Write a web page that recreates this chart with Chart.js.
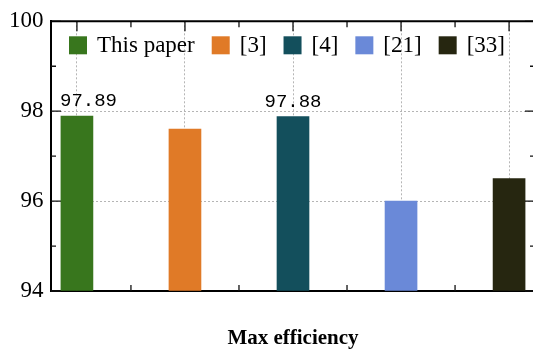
<!DOCTYPE html>
<html>
<head>
<meta charset="utf-8">
<script src="https://cdn.jsdelivr.net/npm/chart.js@4.4.0/dist/chart.umd.min.js"></script>
<style>
  html, body { margin: 0; padding: 0; background: #fff; overflow: hidden; }
  #wrap { width: 545px; height: 351px; }
</style>
</head>
<body>
<div id="wrap"><canvas id="effChart" width="545" height="351"></canvas></div>
<script>
// ================= DATA =================
const sources = ["This paper", "[3]", "[4]", "[21]", "[33]"];
const maxEfficiency = [97.89, 97.6, 97.88, 96.0, 96.5];
const valueLabels = ["97.89", "", "97.88", "", ""];
const barColors = ["#38761d", "#e07a27", "#134f5c", "#6a89d8", "#262610"];
const yTicks = [94, 96, 98, 100];
const yMinorTicks = [95, 97, 99];
const xTitle = "Max efficiency";

const serif = "Liberation Serif";
const gridColor = "#b5b5b5";

// ================= FRAME, TICKS, LEGEND, LABELS =================
const framePlugin = {
  id: "frame",
  beforeDatasetsDraw(chart) {
    const { ctx, chartArea: a, scales: { x, y } } = chart;
    ctx.save();
    ctx.strokeStyle = "#111";
    ctx.lineWidth = 1.3;
    ctx.beginPath();
    // x ticks (inward, bottom and top): bar centres and midpoints
    sources.forEach((_, i) => {
      const marks = [[i + 1, 10]];
      if (i < sources.length - 1) marks.push([i + 1.5, 6]);
      marks.forEach(([v, len]) => {
        const px = x.getPixelForValue(v);
        ctx.moveTo(px, a.bottom); ctx.lineTo(px, a.bottom - len);
        ctx.moveTo(px, a.top); ctx.lineTo(px, a.top + len);
      });
    });
    // y ticks (inward, left and right)
    yTicks.map(v => [v, 10]).concat(yMinorTicks.map(v => [v, 5])).forEach(([v, len]) => {
      const py = y.getPixelForValue(v);
      ctx.moveTo(a.left, py); ctx.lineTo(a.left + len, py);
      ctx.moveTo(a.right, py); ctx.lineTo(a.right - len, py);
    });
    ctx.stroke();
    ctx.restore();
  },
  afterDatasetsDraw(chart) {
    const { ctx, chartArea: a } = chart;
    ctx.save();
    // top and right axis lines
    ctx.strokeStyle = "#000";
    ctx.lineWidth = 2;
    ctx.beginPath();
    ctx.moveTo(a.left - 1, a.top); ctx.lineTo(a.right + 1, a.top);
    ctx.moveTo(a.right, a.top); ctx.lineTo(a.right, a.bottom);
    ctx.stroke();

    // value labels above bars
    ctx.font = "19px 'Liberation Mono', 'DejaVu Sans Mono', monospace";
    ctx.fillStyle = "#000";
    ctx.textAlign = "center";
    ctx.textBaseline = "alphabetic";
    chart.data.datasets.forEach((ds, i) => {
      const txt = valueLabels[i];
      if (!txt) return;
      const bar = chart.getDatasetMeta(i).data[0];
      const half = ctx.measureText(txt).width / 2;
      const cx = Math.max(bar.x, a.left + 9 + half);
      ctx.fillText(txt, cx, bar.y - 10);
    });

    // legend inside the plot
    ctx.font = "23px '" + serif + "', serif";
    ctx.textAlign = "left";
    ctx.textBaseline = "middle";
    const box = 18;
    const cy = a.top + 24;
    let lx = a.left + 18;
    chart.data.datasets.forEach(ds => {
      ctx.fillStyle = ds.backgroundColor;
      ctx.fillRect(lx, cy - box / 2, box, box);
      lx += box + 10;
      ctx.fillStyle = "#000";
      ctx.fillText(ds.label, lx, cy + 1);
      lx += ctx.measureText(ds.label).width + 17;
    });
    ctx.restore();
  }
};

// ================= CHART =================
new Chart(document.getElementById("effChart"), {
  type: "bar",
  data: {
    datasets: sources.map((name, i) => ({
      label: name,
      data: [{ x: i + 1, y: maxEfficiency[i] }],
      backgroundColor: barColors[i],
      barThickness: 32,
      grouped: false,
      base: yTicks[0]
    }))
  },
  options: {
    responsive: false,
    animation: false,
    devicePixelRatio: 1,
    layout: { padding: { top: 17, right: 10, left: 0, bottom: 0 } },
    plugins: {
      legend: { display: false },
      tooltip: { enabled: false }
    },
    scales: {
      x: {
        type: "linear",
        offset: false,
        min: 0.76,
        max: sources.length + 0.24,
        afterBuildTicks: s => { s.ticks = sources.map((_, i) => ({ value: i + 1 })); },
        ticks: { display: false },
        grid: { offset: false, color: gridColor, lineWidth: 1, drawTicks: false },
        border: { color: "#000", width: 2, dash: [2, 2] },
        title: {
          display: true,
          text: xTitle,
          color: "#000",
          padding: 0,
          font: { family: serif, size: 21, weight: "bold" }
        },
        afterFit: s => { s.height = 60; }
      },
      y: {
        min: yTicks[0],
        max: yTicks[yTicks.length - 1],
        afterBuildTicks: s => { s.ticks = yTicks.map(v => ({ value: v })); },
        ticks: { color: "#000", padding: 7.5, font: { family: serif, size: 23 } },
        grid: {
          drawTicks: false,
          lineWidth: 1,
          color: c => (c.tick && (c.tick.value === yTicks[0] || c.tick.value === yTicks[yTicks.length - 1])) ? "rgba(0,0,0,0)" : gridColor
        },
        border: { color: "#000", width: 2, dash: [2, 2] },
        afterFit: s => { s.width = 51; }
      }
    }
  },
  plugins: [framePlugin]
});
</script>
</body>
</html>
